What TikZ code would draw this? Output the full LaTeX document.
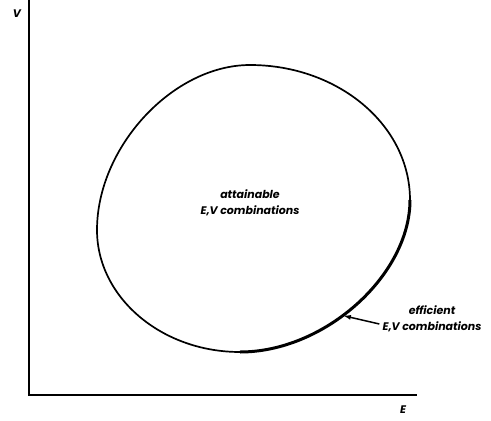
\documentclass[tikz,border=0pt]{standalone}
\usepackage{fontspec}
\setmainfont{Poppins}
\usetikzlibrary{arrows.meta}
\begin{document}
\begin{tikzpicture}[x=1pt,y=-1pt,
  lab/.style={font=\fontsize{11}{15.5}\selectfont\bfseries\itshape, inner sep=0pt, align=center},
  axisline/.style={line width=2.2pt},
  setline/.style={line width=1.7pt},
  frontier/.style={line width=3pt},
  pointer/.style={line width=1.5pt, -{Latex[length=8pt,width=5pt]}}
]
\useasboundingbox (0,0) rectangle (491,421);
% axes
\coordinate (Ytop) at (29,0);
\coordinate (O) at (29,395);
\coordinate (Xend) at (417,395);
\draw[axisline] (Ytop) -- (O) -- (Xend);
\node[lab] (V) at (17,14) {V};
\node[lab] (E) at (403,410) {E};
% attainable set
\coordinate (T) at (250,65);
\coordinate (R) at (410,200);
\coordinate (B) at (240,352);
\coordinate (L) at (97,230);
\draw[setline] (B) .. controls (161,352) and (97,297) .. (L)
  .. controls (97,147) and (173,65) .. (T)
  .. controls (338,65) and (410,125) .. (R);
\draw[frontier] (R) .. controls (410,275) and (325,352) .. coordinate[pos=0.57] (tip) (B);
% labels
\node[lab] (att) at (250,203) {attainable\\E,V combinations};
\node[lab] (eff) at (432,319) {efficient\\E,V combinations};
\draw[pointer] ([shift={(-3,5)}]eff.west) -- (tip);
\end{tikzpicture}
\end{document}
